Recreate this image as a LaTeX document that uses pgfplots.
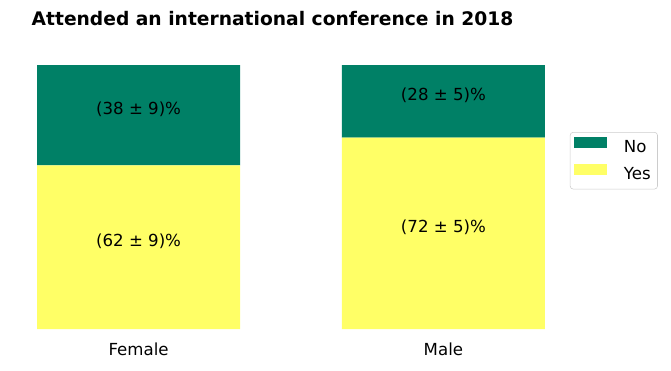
\documentclass[border=0pt]{standalone}
\usepackage{fontspec}
\setmainfont{DejaVu Sans}
\usepackage{pgfplots}
\pgfplotsset{compat=1.18}
\definecolor{cno}{RGB}{0,128,102}
\definecolor{cyes}{RGB}{255,255,102}
\definecolor{legframe}{RGB}{204,204,204}
\begin{document}
\begin{tikzpicture}
\begin{axis}[name=ax, scale only axis, width=5.08in, height=2.64in,
  ybar stacked, bar width=2.03in,
  xmin=-0.3333, xmax=1.3333, ymin=0, ymax=100,
  xtick={0,1}, xticklabels={Female,Male}, ytick=\empty,
  axis line style={draw=none}, major tick length=0pt,
  /pgf/number format/assume math mode=true,
  xticklabel style={font=\fontsize{12}{14}\selectfont, anchor=base, yshift=-0.26in},
  title={Attended an international conference in 2018},
  title style={font=\bfseries\fontsize{13.5}{16}\selectfont, at={(0.5,1)}, anchor=base, yshift=0.31in, xshift=-0.185in},
  legend style={at={(1.049,0.746)}, anchor=north west, draw=legframe, rounded corners=0.03in,
    font=\fontsize{12}{14}\selectfont, inner xsep=0.04in, inner ysep=0.05in,
    row sep=0.07in,
    /tikz/every odd column/.append style={column sep=0.14in}},
  legend cell align=left,
  legend image code/.code={\fill[#1, sharp corners] (0in,-0.01in) rectangle (0.33in,0.10in);},
  reverse legend,
  clip=false,
]
\addplot[fill=cyes, draw=none] coordinates {(0,62) (1,72.5)};
\addplot[fill=cno, draw=none] coordinates {(0,38) (1,27.5)};
\legend{Yes,No}
\coordinate (fy) at (axis cs:0,31);
\coordinate (fn) at (axis cs:0,81);
\coordinate (my) at (axis cs:1,36.25);
\coordinate (mn) at (axis cs:1,86.25);
\end{axis}
\begin{scope}[every node/.style={font=\fontsize{12}{14}\selectfont, text=black, yshift=0.06in}]
\node at (fy) {(62 ± 9)\%};
\node at (fn) {(38 ± 9)\%};
\node at (my) {(72 ± 5)\%};
\node at (mn) {(28 ± 5)\%};
\end{scope}
\path (ax.south west) ++(-0.37in,-0.42in) rectangle ++(6.71in,3.71in);
\end{tikzpicture}
\end{document}
